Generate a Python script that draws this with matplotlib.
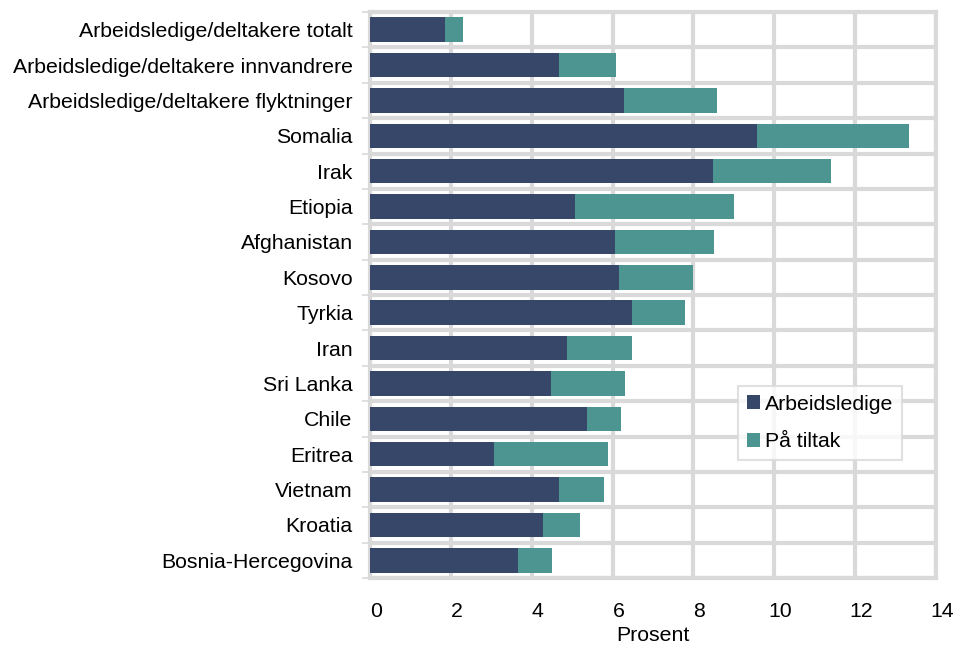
import matplotlib.pyplot as plt
import matplotlib.transforms as mtrans
import numpy as np

plt.rcParams['font.family'] = ['Liberation Sans', 'DejaVu Sans']

# categories, top to bottom
categories = ['Arbeidsledige/deltakere totalt', 'Arbeidsledige/deltakere innvandrere',
              'Arbeidsledige/deltakere flyktninger', 'Somalia', 'Irak', 'Etiopia',
              'Afghanistan', 'Kosovo', 'Tyrkia', 'Iran', 'Sri Lanka', 'Chile',
              'Eritrea', 'Vietnam', 'Kroatia', 'Bosnia-Hercegovina']
arbeidsledige = [1.86, 4.68, 6.28, 9.58, 8.48, 5.07, 6.06, 6.17, 6.48, 4.88,
                 4.47, 5.37, 3.07, 4.67, 4.27, 3.66]
totalt = [2.29, 6.09, 8.59, 13.32, 11.40, 9.00, 8.50, 8.00, 7.80, 6.49,
          6.30, 6.20, 5.89, 5.79, 5.19, 4.49]
paa_tiltak = [t - a for t, a in zip(totalt, arbeidsledige)]
xticks = [0, 2, 4, 6, 8, 10, 12, 14]

dark = '#36476a'
teal = '#4d9590'
grid = '#d9d9d9'
fs = 15.3

fig = plt.figure(figsize=(9.56, 6.46), dpi=100)
ax = fig.add_axes([370/956, 1 - 578/646, (936-370)/956, (578-12)/646])

y = np.arange(len(categories))
ax.barh(y, arbeidsledige, height=0.69, color=dark, label='Arbeidsledige', zorder=3)
ax.barh(y, paa_tiltak, left=arbeidsledige, height=0.69, color=teal, label='På tiltak', zorder=3)

ax.set_ylim(len(categories) - 0.5, -0.5)
ax.set_xlim(0, 14)
ax.set_xticks(xticks)
ax.set_yticks(y)
ax.set_yticklabels(categories, fontsize=fs)
ax.set_yticks(np.arange(len(categories) + 1) - 0.5, minor=True)

# gridlines: vertical at major x, horizontal at category boundaries
ax.grid(axis='x', which='major', color=grid, linewidth=3, zorder=0)
ax.grid(axis='y', which='minor', color=grid, linewidth=3, zorder=0)
ax.tick_params(axis='y', which='major', length=0, pad=12.5)
ax.tick_params(axis='y', which='minor', length=6, width=1.2, color=grid, direction='out')
ax.tick_params(axis='x', length=0, labelsize=fs, pad=17)
for s in ax.spines.values():
    s.set_color(grid)
    s.set_linewidth(3)

# x labels sit a little right of the gridlines in the original
off = mtrans.ScaledTranslation(6/100, 0, fig.dpi_scale_trans)
for lab in ax.get_xticklabels():
    lab.set_transform(lab.get_transform() + off)

ax.set_xlabel('Prosent', fontsize=fs)
ax.xaxis.set_label_coords(0.5, -(626-578)/566)

leg = ax.legend(loc='upper left', bbox_to_anchor=((738-370)/566, 1 - (386-12)/566),
                fontsize=fs, frameon=True, fancybox=False, borderaxespad=0,
                handlelength=0.62, handleheight=0.62, handletextpad=0.27,
                borderpad=0.4, labelspacing=0.88)
leg.get_frame().set_edgecolor(grid)
leg.get_frame().set_linewidth(1.5)

fig.savefig('out.png', dpi=100)
